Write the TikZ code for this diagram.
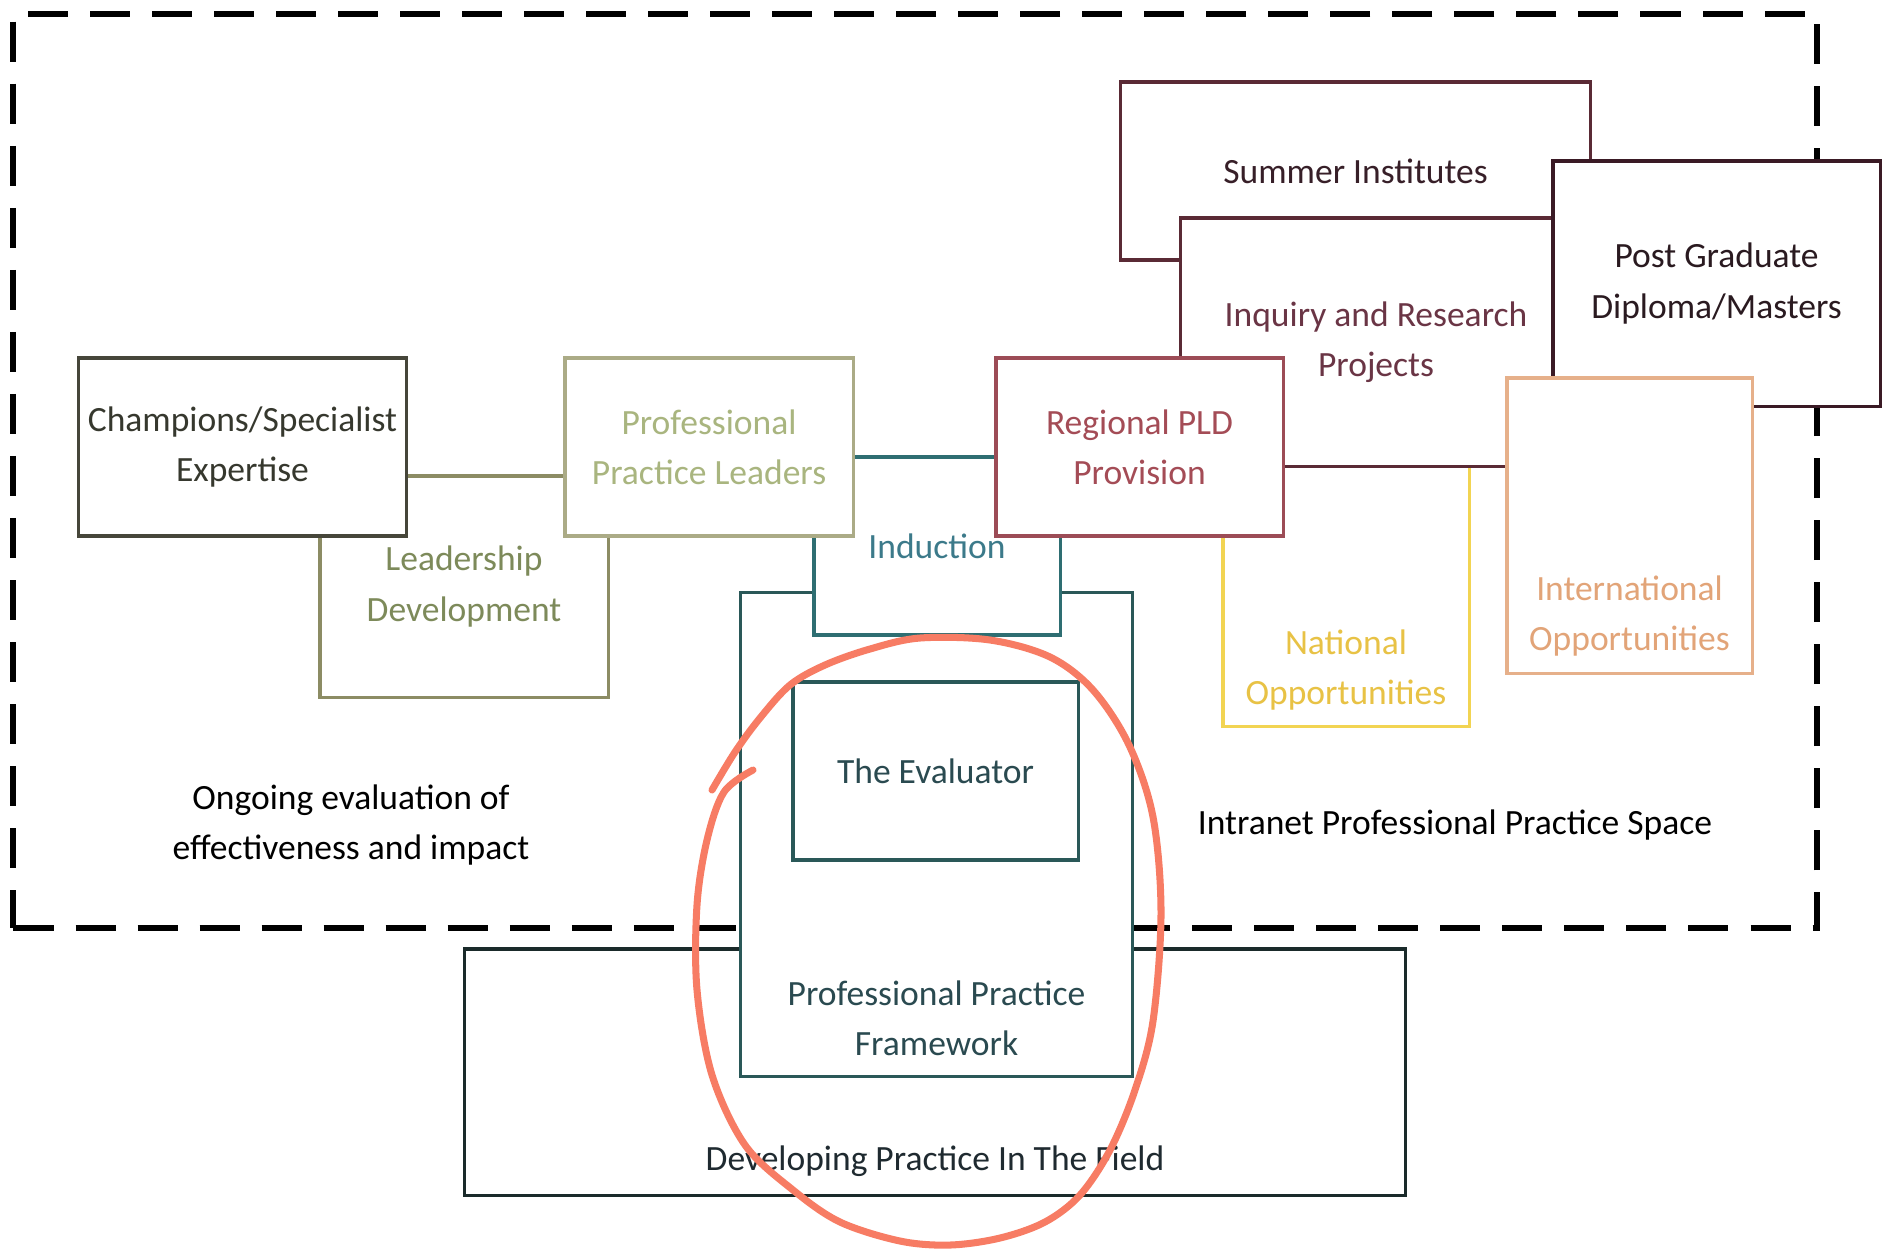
\documentclass[tikz,border=0pt]{standalone}
\usepackage{fontspec}
\setmainfont{Carlito}
\definecolor{champc}{HTML}{46463A}
\definecolor{champt}{HTML}{36382E}
\definecolor{pplc}{HTML}{ABAB86}
\definecolor{pplt}{HTML}{A9B57F}
\definecolor{leadc}{HTML}{8C8C64}
\definecolor{leadt}{HTML}{7D8A5A}
\definecolor{indc}{HTML}{2E6E72}
\definecolor{indt}{HTML}{3C7A8A}
\definecolor{ppfc}{HTML}{2A5858}
\definecolor{ppft}{HTML}{2A4A50}
\definecolor{devc}{HTML}{1A2A2A}
\definecolor{devt}{HTML}{1F2A30}
\definecolor{regc}{HTML}{9C4C56}
\definecolor{regt}{HTML}{A44C56}
\definecolor{inqc}{HTML}{5A2A35}
\definecolor{inqt}{HTML}{6A3545}
\definecolor{pgc}{HTML}{3A1A25}
\definecolor{pgt}{HTML}{2A1A20}
\definecolor{natc}{HTML}{F2D452}
\definecolor{natt}{HTML}{E8C245}
\definecolor{intlc}{HTML}{E6B08A}
\definecolor{intlt}{HTML}{E2A478}
\definecolor{ringc}{HTML}{F77C64}
\tikzset{box/.style={draw, fill=white, line width=0.9pt, inner sep=0pt, outer sep=0pt, align=center, font=\fontsize{10.1}{14.3}\selectfont}, txt/.style={align=center, inner sep=0pt, font=\fontsize{10.1}{14.3}\selectfont}, space/.style={draw, line width=1.7pt, dash pattern=on 0.4cm off 0.22cm, inner sep=0pt}, ring/.style={draw=ringc, line width=2pt, line cap=round, line join=round}}

\begin{document}
\begin{tikzpicture}[x=0.01cm, y=-0.01cm]
    \useasboundingbox (0,0) rectangle (1883,1248);
    \node[space, minimum width=18.02cm, minimum height=9.14cm] (frame) at (915,471) {};
    \node[box, draw=devc, minimum width=9.4cm, minimum height=2.46cm] (dev) at (935,1072) {};
    \node[txt, text=devt] (devT) at (935,1161) {Developing Practice In The Field};
    \node[box, draw=ppfc, minimum width=3.91cm, minimum height=4.83cm] (ppf) at (936.5,834.5) {};
    \node[txt, text=ppft] (ppfT) at (936.5,1018) {Professional Practice\\Framework};
    \node[box, draw=ppfc, text=ppft, minimum width=2.85cm, minimum height=1.78cm] (eval) at (935.5,771) {The Evaluator};
    \node[box, draw=indc, text=indt, minimum width=2.46cm, minimum height=1.78cm] (ind) at (937,546) {Induction};
    \node[box, draw=leadc, text=leadt, minimum width=2.88cm, minimum height=2.21cm] (lead) at (464,586.5) {Leadership\\Development};
    \node[box, draw=champc, text=champt, minimum width=3.27cm, minimum height=1.78cm] (champ) at (242.5,447) {Champions/Specialist\\Expertise};
    \node[box, draw=pplc, text=pplt, minimum width=2.88cm, minimum height=1.78cm] (ppl) at (709,447) {Professional\\Practice Leaders};
    \node[box, draw=inqc, text=pgt!80!inqt, minimum width=4.69cm, minimum height=1.78cm] (summer) at (1355.5,171) {Summer Institutes};
    \node[box, draw=natc, minimum width=2.46cm, minimum height=2.6cm] (nat) at (1346,596) {};
    \node[txt, text=natt] (natT) at (1346,670) {National\\Opportunities};
    \node[box, draw=inqc, text=inqt, minimum width=3.9cm, minimum height=2.48cm] (inq) at (1376,342) {Inquiry and Research\\Projects};
    \node[box, draw=regc, text=regt, minimum width=2.87cm, minimum height=1.78cm] (reg) at (1139.5,447) {Regional PLD\\Provision};
    \node[box, draw=pgc, text=pgt, minimum width=3.27cm, minimum height=2.45cm] (pg) at (1716.5,283.5) {Post Graduate\\Diploma/Masters};
    \node[box, draw=intlc, minimum width=2.45cm, minimum height=2.95cm] (intl) at (1629.5,525.5) {};
    \node[txt, text=intlt] (intlT) at (1629.5,616) {International\\Opportunities};
    \node[txt] (ongoing) at (351,825) {Ongoing evaluation of\\effectiveness and impact};
    \node[txt] (intranet) at (1455,825) {Intranet Professional Practice Space};
    \draw[ring] plot[smooth, tension=0.55] coordinates {(753,770) (724,792) (707,840) (697,905) (697,990) (712,1075) (745,1145) (793,1190) (840,1222) (900,1241) (950,1245) (1000,1238) (1045,1222) (1080,1195) (1110,1150) (1135,1090) (1153,1021) (1161,913) (1153,817) (1129,745) (1093,690) (1050,657) (990,640) (920,638) (870,649) (825,665) (790,685) (760,718) (735,752) (712,790)};
\end{tikzpicture}
\end{document}
